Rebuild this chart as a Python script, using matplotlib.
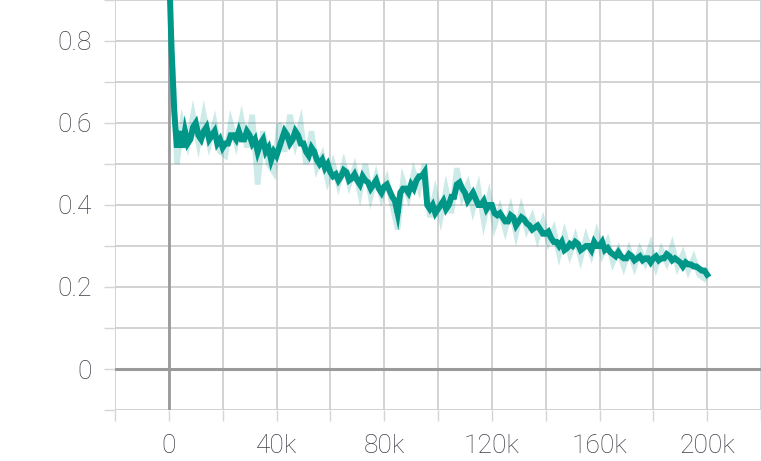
import matplotlib
matplotlib.use("Agg")
import matplotlib.pyplot as plt
from matplotlib.ticker import MultipleLocator, FuncFormatter
import numpy as np

# --- dados (passo em milhares) ---
smooth_k = list(range(0, 201))
smooth_val = [
    1.00, 0.78, 0.63, 0.54, 0.58, 0.54, 0.58, 0.55, 0.56, 0.59,    # 0-9
    0.60, 0.57, 0.56, 0.58, 0.59, 0.56, 0.57, 0.58, 0.55, 0.56,    # 10-19
    0.54, 0.55, 0.55, 0.57, 0.57, 0.56, 0.58, 0.56, 0.56, 0.58,    # 20-29
    0.57, 0.55, 0.56, 0.53, 0.55, 0.56, 0.53, 0.54, 0.51, 0.53,    # 30-39
    0.52, 0.54, 0.56, 0.58, 0.57, 0.55, 0.56, 0.58, 0.57, 0.55,    # 40-49
    0.55, 0.53, 0.52, 0.54, 0.53, 0.51, 0.50, 0.51, 0.49, 0.50,    # 50-59
    0.48, 0.47, 0.475, 0.46, 0.47, 0.485, 0.48, 0.46, 0.465, 0.475,  # 60-69
    0.46, 0.45, 0.47, 0.46, 0.455, 0.44, 0.45, 0.46, 0.44, 0.43,   # 70-79
    0.445, 0.45, 0.435, 0.42, 0.41, 0.38, 0.43, 0.44, 0.44, 0.43,  # 80-89
    0.45, 0.44, 0.46, 0.47, 0.47, 0.48, 0.40, 0.39, 0.40, 0.38,    # 90-99
    0.39, 0.40, 0.41, 0.39, 0.40, 0.42, 0.42, 0.45, 0.455, 0.44,   # 100-109
    0.43, 0.41, 0.42, 0.43, 0.415, 0.40, 0.40, 0.41, 0.39, 0.40,   # 110-119
    0.40, 0.38, 0.375, 0.38, 0.37, 0.36, 0.36, 0.375, 0.37, 0.35,  # 120-129
    0.36, 0.37, 0.365, 0.355, 0.35, 0.34, 0.345, 0.35, 0.34, 0.33,  # 130-139
    0.33, 0.335, 0.32, 0.31, 0.31, 0.30, 0.31, 0.29, 0.295, 0.305,  # 140-149
    0.30, 0.31, 0.305, 0.29, 0.295, 0.30, 0.30, 0.29, 0.31, 0.30,   # 150-159
    0.30, 0.31, 0.29, 0.295, 0.285, 0.28, 0.275, 0.285, 0.275, 0.27,  # 160-169
    0.27, 0.28, 0.275, 0.265, 0.27, 0.275, 0.265, 0.27, 0.27, 0.26,   # 170-179
    0.27, 0.275, 0.265, 0.27, 0.27, 0.28, 0.275, 0.265, 0.27, 0.265,  # 180-189
    0.26, 0.25, 0.26, 0.255, 0.255, 0.25, 0.25, 0.245, 0.24, 0.24,    # 190-199
    0.23,                                                             # 200
]

raw_k = [1, 3, 5, 7, 9, 11, 13, 15, 17, 19, 21, 23, 25, 27, 29, 31, 33, 35, 37,
         39, 41, 43, 45, 47, 49, 51, 53, 55, 57, 59, 61, 63, 65, 67, 69, 71, 73,
         75, 77, 79, 81, 83, 85, 87, 89, 91, 93, 95, 97, 99, 101, 103, 105, 107,
         109, 111, 113, 115, 117, 119, 121, 123, 125, 127, 129, 131, 133, 135,
         137, 139, 141, 143, 145, 147, 149, 151, 153, 155, 157, 159, 161, 163,
         165, 167, 169, 171, 173, 175, 177, 179, 181, 183, 185, 187, 189, 191,
         193, 195, 197, 199]
raw_val = [0.80, 0.50, 0.60, 0.55, 0.62, 0.55, 0.62, 0.55, 0.60, 0.53, 0.52,
           0.60, 0.55, 0.61, 0.54, 0.62, 0.45, 0.58, 0.50, 0.48, 0.60, 0.53,
           0.62, 0.55, 0.60, 0.50, 0.58, 0.49, 0.52, 0.46, 0.50, 0.45, 0.50,
           0.45, 0.49, 0.43, 0.50, 0.42, 0.47, 0.42, 0.46, 0.40, 0.34, 0.46,
           0.42, 0.48, 0.44, 0.50, 0.37, 0.43, 0.37, 0.44, 0.38, 0.49, 0.42,
           0.45, 0.39, 0.44, 0.36, 0.42, 0.35, 0.39, 0.34, 0.39, 0.33, 0.39,
           0.34, 0.37, 0.32, 0.36, 0.31, 0.34, 0.28, 0.33, 0.28, 0.32, 0.27,
           0.32, 0.28, 0.33, 0.28, 0.31, 0.26, 0.29, 0.25, 0.29, 0.25, 0.29,
           0.26, 0.30, 0.25, 0.29, 0.26, 0.30, 0.25, 0.28, 0.24, 0.27, 0.23,
           0.22]

y_labels = {0.0: "0", 0.2: "0.2", 0.4: "0.4", 0.6: "0.6", 0.8: "0.8"}

TEAL = "#009688"
GRID = "#cfcfcf"
TXT = "#3f3f49"

fig = plt.figure(figsize=(7.61, 4.61), dpi=100)
ax = fig.add_axes([115 / 761, 51 / 461, 646 / 761, 410 / 461])

ax.plot(np.array(raw_k) * 1000, raw_val, color=TEAL, alpha=0.2, lw=4.0,
        solid_joinstyle="miter", zorder=3)
ax.plot(np.array(smooth_k) * 1000, smooth_val, color=TEAL, lw=4.3,
        solid_joinstyle="miter", zorder=4)

ax.set_xlim(-20000, 220000)
ax.set_ylim(-0.1, 0.9)

ax.xaxis.set_major_locator(MultipleLocator(20000))
ax.yaxis.set_major_locator(MultipleLocator(0.1))


def fmt_x(v, pos):
    k = int(round(v / 1000))
    if k < 0 or k % 40 != 0 or k > 200:
        return ""
    return "0" if k == 0 else f"{k}k"


def fmt_y(v, pos):
    return y_labels.get(round(v, 1), "")


ax.xaxis.set_major_formatter(FuncFormatter(fmt_x))
ax.yaxis.set_major_formatter(FuncFormatter(fmt_y))

ax.grid(True, color=GRID, lw=1.3, zorder=1)
ax.axhline(0, color="#9a9a9a", lw=2.2, zorder=2)
ax.axvline(0, color="#9a9a9a", lw=2.0, zorder=2)

for s in ax.spines.values():
    s.set_visible(False)

ax.tick_params(length=8, width=1.0, color="#d6d6d6", pad=9,
               labelsize=19, labelcolor=TXT)
for lbl in ax.get_xticklabels() + ax.get_yticklabels():
    lbl.set_fontfamily("Roboto")
    lbl.set_fontweight("light")

fig.savefig("out.png", dpi=100)
